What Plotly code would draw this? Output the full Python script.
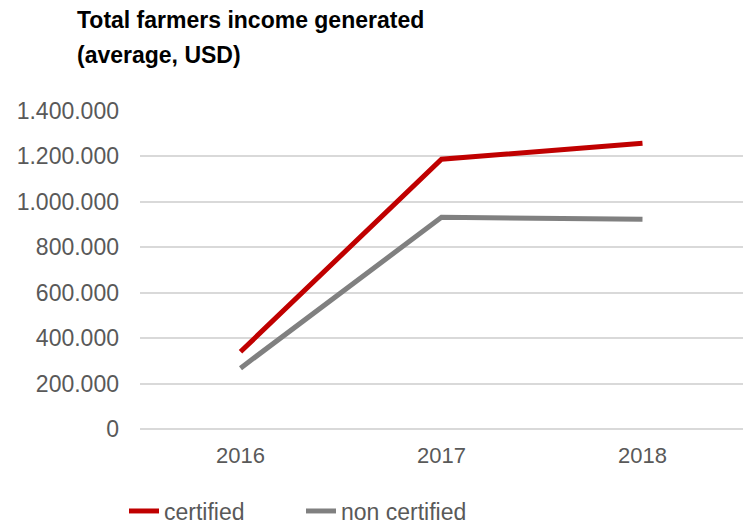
import plotly.graph_objects as go

years = ["2016", "2017", "2018"]
certified = [340000, 1188000, 1258000]
non_certified = [268000, 932000, 923000]
y_ticks = [0, 200000, 400000, 600000, 800000, 1000000, 1200000, 1400000]
title_lines = ["Total farmers income generated", "(average, USD)"]

fig = go.Figure()
fig.add_trace(go.Scatter(x=years, y=certified, mode="lines", name="certified",
                         line=dict(color="#C00000", width=5)))
fig.add_trace(go.Scatter(x=years, y=non_certified, mode="lines", name="non certified",
                         line=dict(color="#808080", width=5)))

W, H = 752, 526
L, R, T, B = 140, 9, 111, 97
PH = H - T - B
PW = W - L - R
title_tops = [5, 40]
fig.update_layout(
    width=W, height=H,
    margin=dict(l=L, r=R, t=T, b=B, autoexpand=False),
    paper_bgcolor="white", plot_bgcolor="white",
    separators=",.",
    font=dict(family="Liberation Sans, Arial, sans-serif", color="#595959", size=22),
    showlegend=True,
    legend=dict(orientation="h", x=124 / W, xanchor="left", xref="container",
                y=1 - 511 / H, yanchor="middle", yref="container",
                font=dict(size=23, color="#595959"),
                entrywidth=132, entrywidthmode="pixels",
                itemwidth=30, tracegroupgap=0),
    xaxis=dict(range=[-0.5, 2.5], showgrid=False, showline=False, zeroline=False,
               ticks="", ticklabelstandoff=11, tickfont=dict(size=22, color="#595959"),
               automargin=False),
    yaxis=dict(range=[0, 1400000], tickvals=y_ticks, tickformat=",d",
               showgrid=True, gridcolor="#D9D9D9", gridwidth=2,
               zeroline=True, zerolinecolor="#D9D9D9", zerolinewidth=2,
               showline=False, ticks="", ticklabelstandoff=20, automargin=False,
               tickfont=dict(size=23, color="#595959")),
    annotations=[dict(text="<b>" + line + "</b>",
                      xref="paper", yref="paper",
                      x=(75 - L) / PW, y=1 + (T - top) / PH,
                      xanchor="left", yanchor="top", align="left", showarrow=False,
                      font=dict(family="Liberation Sans, Arial, sans-serif",
                                size=23, color="black"))
                 for line, top in zip(title_lines, title_tops)],
)

fig.write_html("out.html", post_script="document.body.style.margin='0';",
               config={"displayModeBar": False})
